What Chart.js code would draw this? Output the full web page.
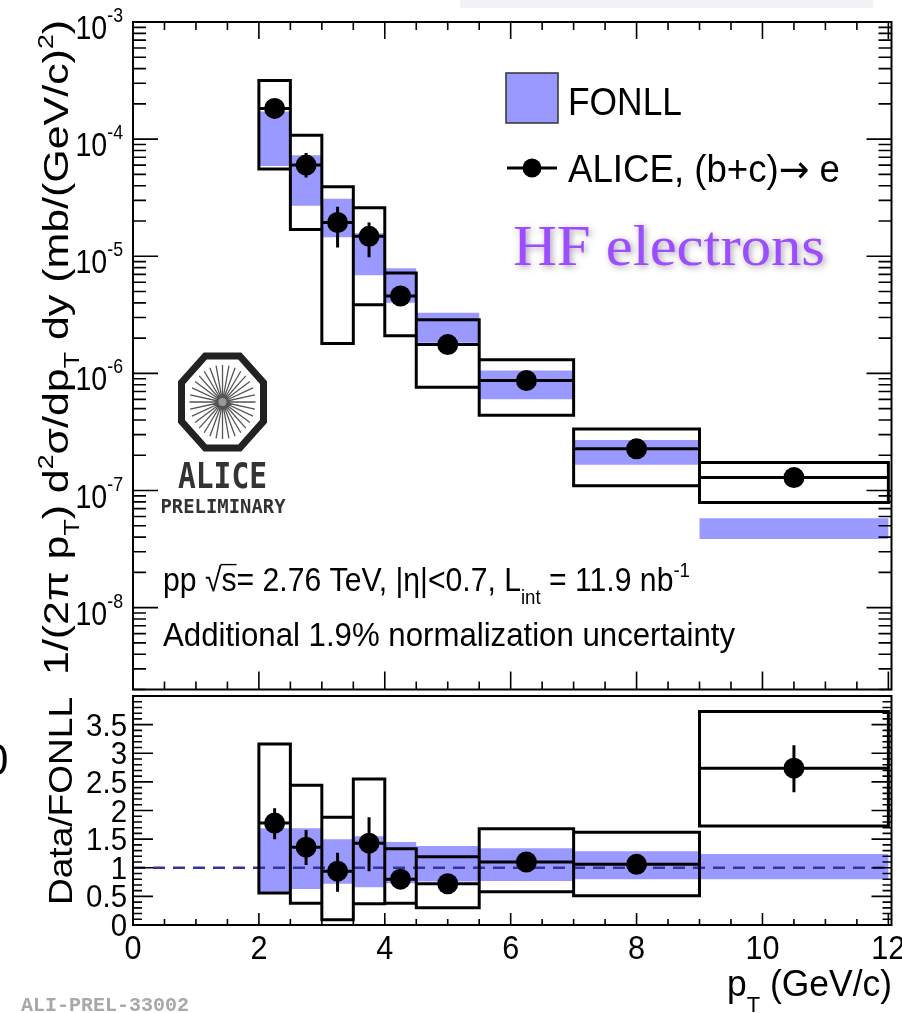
<!DOCTYPE html>
<html>
<head>
<meta charset="utf-8">
<script src="https://cdn.jsdelivr.net/npm/chart.js@4.4.1/dist/chart.umd.min.js"></script>
<style>
  body { margin: 0; background: #fff; }
  #wrap { position: relative; width: 902px; height: 1013px; overflow: hidden; background: #fff; }
  canvas { position: absolute; left: 0; }
  #spectrum { top: 0; }
  #ratio { top: 680px; }
</style>
</head>
<body>
<div id="wrap">
  <canvas id="spectrum" width="902" height="700"></canvas>
  <canvas id="ratio" width="902" height="333"></canvas>
</div>
<script>
// pT bins (GeV/c)
const binLow  = [2, 2.5, 3, 3.5, 4, 4.5, 5.5, 7, 9];
const binHigh = [2.5, 3, 3.5, 4, 4.5, 5.5, 7, 9, 12];
const ptMean  = [2.25, 2.75, 3.25, 3.75, 4.25, 5, 6.25, 8, 10.5];

// cross section, mb/(GeV/c)^2
const xsec       = [1.83e-4, 6.0e-5, 1.94e-5, 1.48e-5, 4.58e-6, 1.76e-6, 8.7e-7, 2.27e-7, 1.29e-7];
const xsecStatLo = [1.6e-4, 4.7e-5, 1.19e-5, 9.8e-6, 4.1e-6, 1.62e-6, 8.1e-7, 2.12e-7, 1.17e-7];
const xsecStatHi = [2.08e-4, 7.6e-5, 2.65e-5, 1.94e-5, 5.1e-6, 1.92e-6, 9.4e-7, 2.43e-7, 1.42e-7];
const xsecSysLo  = [5.57e-5, 1.69e-5, 1.8e-6, 3.85e-6, 2.1e-6, 7.6e-7, 4.4e-7, 1.1e-7, 7.9e-8];
const xsecSysHi  = [3.16e-4, 1.08e-4, 3.92e-5, 2.6e-5, 7.2e-6, 2.87e-6, 1.31e-6, 3.35e-7, 1.73e-7];
const fonllLo    = [5.9e-5, 2.7e-5, 1.45e-5, 6.9e-6, 4.0e-6, 1.83e-6, 6.0e-7, 1.66e-7, 3.85e-8];
const fonllHi    = [1.72e-4, 7.3e-5, 3.1e-5, 1.57e-5, 7.9e-6, 3.29e-6, 1.06e-6, 2.7e-7, 5.8e-8];

// data / FONLL
const ratio        = [1.78, 1.36, 0.94, 1.43, 0.80, 0.72, 1.10, 1.06, 2.74];
const ratioStatLo  = [1.50, 1.05, 0.58, 0.94, 0.71, 0.64, 1.03, 0.99, 2.32];
const ratioStatHi  = [2.04, 1.66, 1.26, 1.88, 0.89, 0.80, 1.17, 1.13, 3.14];
const ratioSysLo   = [0.56, 0.38, 0.09, 0.37, 0.38, 0.30, 0.58, 0.51, 1.73];
const ratioSysHi   = [3.16, 2.44, 1.88, 2.55, 1.33, 1.19, 1.68, 1.62, 3.73];
const ratioFonllLo = [0.58, 0.63, 0.72, 0.66, 0.73, 0.76, 0.77, 0.80, 0.80];
const ratioFonllHi = [1.69, 1.69, 1.50, 1.55, 1.45, 1.38, 1.34, 1.29, 1.24];

// ticks
const xMajor = [0, 2, 4, 6, 8, 10, 12];
const xTickLabels = ['0', '2', '4', '6', '8', '10', '12'];
const yDecades = [-3, -4, -5, -6, -7, -8];
const ratioTicks = [0, 0.5, 1, 1.5, 2, 2.5, 3, 3.5];
const ratioTickLabels = ['0', '0.5', '1', '1.5', '2', '2.5', '3', '3.5'];

const FONLL_COL = '#9999ff';
const SANS = '"Liberation Sans", Arial, sans-serif';

// text with sub/superscripts, optionally squeezed to a width and rotated
function richText(ctx, segs, x, y, o) {
  const size = o.size;
  const fontOf = (s, sz) => (o.weight || '') + ' ' + sz + 'px ' + (s.fam || o.family || SANS);
  const pieces = segs.map(s => {
    const sz = s.k ? size * 0.62 : size;
    ctx.font = fontOf(s, sz);
    return { s, sz, w: ctx.measureText(s.t).width };
  });
  const raw = pieces.reduce((a, p) => a + p.w, 0);
  const sx = o.width ? o.width / raw : (o.sx || 1);
  ctx.save();
  ctx.translate(x, y);
  if (o.rot) ctx.rotate(o.rot);
  ctx.scale(sx, 1);
  let cx = o.align === 'right' ? -raw : o.align === 'center' ? -raw / 2 : 0;
  ctx.fillStyle = o.color || '#000';
  ctx.textBaseline = 'alphabetic';
  ctx.textAlign = 'left';
  for (const p of pieces) {
    ctx.font = fontOf(p.s, p.sz);
    let dy = 0;
    if (p.s.k === 'sup') dy = -size * (o.supUp || 0.42);
    if (p.s.k === 'sub') dy = size * (o.subDown || 0.32);
    ctx.fillText(p.s.t, cx, dy);
    if (p.s.ovl) {
      ctx.save();
      ctx.strokeStyle = o.color || '#000';
      ctx.lineWidth = 1.4;
      ctx.beginPath();
      ctx.moveTo(cx - 1, -size * 0.8);
      ctx.lineTo(cx + p.w, -size * 0.8);
      ctx.stroke();
      ctx.restore();
    }
    cx += p.w;
  }
  ctx.restore();
}

function drawFrame(chart, o) {
  const ctx = chart.ctx, a = chart.chartArea;
  const xs = chart.scales.x, ys = chart.scales.y;
  ctx.save();
  ctx.strokeStyle = '#000';
  ctx.lineWidth = 1.6;
  ctx.beginPath();
  for (let v = 0; v <= 12.001; v += 0.5) {
    const px = xs.getPixelForValue(v);
    const major = xMajor.includes(v);
    if (o.xBottom) {
      const L = major ? o.xBottom[0] : o.xBottom[1];
      ctx.moveTo(px, a.bottom); ctx.lineTo(px, a.bottom - L);
    }
    if (o.xTop) {
      const L = major ? o.xTop[0] : o.xTop[1];
      ctx.moveTo(px, a.top); ctx.lineTo(px, a.top + L);
    }
  }
  o.yTicks.forEach(t => {
    const py = ys.getPixelForValue(t.v);
    const L = t.major ? o.yLen[0] : o.yLen[1];
    ctx.moveTo(a.left, py); ctx.lineTo(a.left + L, py);
    ctx.moveTo(a.right, py); ctx.lineTo(a.right - L, py);
  });
  ctx.stroke();
  ctx.lineWidth = 2;
  ctx.strokeRect(a.left, a.top, a.right - a.left, a.bottom - a.top);
  ctx.restore();
}

function bandSets(yl, yh) {
  return binLow.map((l, i) => ({
    data: [{x: l, y: yl[i]}, {x: binHigh[i], y: yl[i]}, {x: binHigh[i], y: yh[i]}, {x: l, y: yh[i]}],
    fill: 'shape', backgroundColor: FONLL_COL, borderColor: 'rgba(0,0,0,0)', borderWidth: 1,
    pointRadius: 0, order: 5
  }));
}

function boxSet(yl, yh) {
  const d = [];
  binLow.forEach((l, i) => {
    const h = binHigh[i];
    d.push({x: l, y: yl[i]}, {x: h, y: yl[i]}, {x: h, y: yh[i]}, {x: l, y: yh[i]}, {x: l, y: yl[i]}, {x: l, y: null});
  });
  return { data: d, borderColor: '#000', borderWidth: 3, borderCapStyle: 'square', pointRadius: 0, fill: false, spanGaps: false, order: 3 };
}

function errSet(v, sl, sh) {
  const d = [];
  binLow.forEach((l, i) => {
    d.push({x: l, y: v[i]}, {x: binHigh[i], y: v[i]}, {x: l, y: null},
           {x: ptMean[i], y: sl[i]}, {x: ptMean[i], y: sh[i]}, {x: l, y: null});
  });
  return { data: d, borderColor: '#000', borderWidth: 3, pointRadius: 0, fill: false, spanGaps: false, order: 2 };
}

function markerSet(v) {
  return { data: ptMean.map((x, i) => ({x, y: v[i]})), showLine: false, pointRadius: 10.5,
           pointBackgroundColor: '#000', pointBorderWidth: 0, order: 1 };
}

const common = {
  responsive: false, animation: false, events: [],
  plugins: { legend: { display: false }, tooltip: { enabled: false } }
};

// ---------- top panel ----------
const logTicks = [];
for (let n = -9; n <= -3; n++) {
  for (let k = 1; k <= 9; k++) {
    const v = k * Math.pow(10, n);
    if (v >= 2e-9 && v <= 1.0001e-3) logTicks.push({ v, major: k === 1 });
  }
}

const topPlugin = {
  id: 'topDecor',
  afterDraw(chart) {
    const ctx = chart.ctx, ys = chart.scales.y;
    drawFrame(chart, { xTop: [17, 8], xBottom: [18, 8], yTicks: logTicks, yLen: [25, 13] });

    // faint clipped header strip
    ctx.fillStyle = 'rgba(215,210,222,0.3)';
    ctx.fillRect(460, 0, 413, 8);

    yDecades.forEach(n => {
      const py = ys.getPixelForValue(Math.pow(10, n));
      richText(ctx, [{t: '10'}, {t: String(n), k: 'sup'}], 123, py + 17,
               { size: 34, sx: 0.84, align: 'right', supUp: 0.5 });
    });

    richText(ctx, [{t: '1/(2π p'}, {t: 'T', k: 'sub'}, {t: ') d'}, {t: '2', k: 'sup'}, {t: 'σ/dp'},
                   {t: 'T', k: 'sub'}, {t: ' dy (mb/(GeV/c)'}, {t: '2', k: 'sup'}, {t: ')'}],
             68, 675, { size: 35, width: 655, rot: -Math.PI / 2 });

    // legend
    ctx.save();
    ctx.fillStyle = FONLL_COL;
    ctx.fillRect(506, 73, 52, 50);
    ctx.strokeStyle = '#333';
    ctx.lineWidth = 1.5;
    ctx.strokeRect(506, 73, 52, 50);
    ctx.strokeStyle = '#000';
    ctx.lineWidth = 3;
    ctx.beginPath(); ctx.moveTo(507, 168); ctx.lineTo(557, 168); ctx.stroke();
    ctx.fillStyle = '#000';
    ctx.beginPath(); ctx.arc(532, 168, 9.5, 0, Math.PI * 2); ctx.fill();
    ctx.restore();
    richText(ctx, [{t: 'FONLL'}], 568, 115, { size: 38, width: 114 });
    richText(ctx, [{t: 'ALICE, (b+c)'}, {t: '→', fam: '"DejaVu Sans", sans-serif'}, {t: ' e'}], 568, 182,
             { size: 38, width: 272 });

    ctx.save();
    ctx.shadowColor = 'rgba(60,40,80,0.45)';
    ctx.shadowBlur = 6;
    ctx.shadowOffsetX = 2;
    ctx.shadowOffsetY = 2;
    richText(ctx, [{t: 'HF electrons'}], 513, 265,
             { size: 57, width: 312, family: '"Liberation Serif", "DejaVu Serif", serif', color: '#9b4dff' });
    ctx.restore();

    // ALICE logo
    ctx.save();
    const cx = 222.5, cy = 402, rx = 41, ry = 46;
    ctx.strokeStyle = '#555';
    ctx.lineWidth = 1.3;
    ctx.beginPath();
    for (let i = 0; i < 32; i++) {
      const ang = i * Math.PI / 16;
      ctx.moveTo(cx, cy);
      ctx.lineTo(cx + Math.cos(ang) * (rx - 8), cy + Math.sin(ang) * (ry - 9));
    }
    ctx.stroke();
    ctx.fillStyle = '#999';
    ctx.beginPath(); ctx.arc(cx, cy, 4, 0, Math.PI * 2); ctx.fill();
    ctx.strokeStyle = '#222';
    ctx.lineWidth = 7;
    ctx.lineJoin = 'miter';
    ctx.beginPath();
    const c = 0.42;
    const pts = [[-c, -1], [c, -1], [1, -c], [1, c], [c, 1], [-c, 1], [-1, c], [-1, -c]];
    pts.forEach((p, i) => {
      const px = cx + p[0] * rx, py = cy + p[1] * ry;
      if (i === 0) ctx.moveTo(px, py); else ctx.lineTo(px, py);
    });
    ctx.closePath();
    ctx.stroke();
    ctx.restore();
    richText(ctx, [{t: 'ALICE'}], 222.5, 488, { size: 35, width: 89, align: 'center', weight: 'bold',
             family: '"DejaVu Sans Mono", monospace', color: '#333' });
    richText(ctx, [{t: 'PRELIMINARY'}], 223, 513, { size: 20, width: 125, align: 'center', weight: 'bold',
             family: '"DejaVu Sans Mono", monospace', color: '#333' });

    // run info
    richText(ctx, [{t: 'pp '}, {t: '√'}, {t: 's', ovl: true}, {t: '= 2.76 TeV, |η|<0.7, L'},
                   {t: 'int', k: 'sub'}, {t: ' = 11.9 nb'}, {t: '-1', k: 'sup'}],
             163, 591, { size: 33, width: 527, subDown: 0.4 });
    richText(ctx, [{t: 'Additional 1.9% normalization uncertainty'}], 163, 646, { size: 33, width: 572 });
  }
};

new Chart(document.getElementById('spectrum'), {
  type: 'line',
  data: {
    datasets: [
      markerSet(xsec),
      errSet(xsec, xsecStatLo, xsecStatHi),
      boxSet(xsecSysLo, xsecSysHi),
      ...bandSets(fonllLo, fonllHi)
    ]
  },
  options: {
    ...common,
    layout: { padding: { left: 133, right: 9, top: 22, bottom: 4 } },
    scales: {
      x: { type: 'linear', min: 0, max: 12.05, display: false },
      y: { type: 'logarithmic', min: 2e-9, max: 1e-3, display: false }
    }
  },
  plugins: [topPlugin]
});

// ---------- ratio panel ----------
const ratioMinor = [];
for (let i = 0; i <= 40; i++) ratioMinor.push({ v: i / 10, major: i % 5 === 0 });

const ratioPlugin = {
  id: 'ratioDecor',
  afterDraw(chart) {
    const ctx = chart.ctx, xs = chart.scales.x, ys = chart.scales.y;
    drawFrame(chart, { xBottom: [12, 6], yTicks: ratioMinor, yLen: [20, 9] });

    ratioTicks.forEach((v, i) => {
      richText(ctx, [{t: ratioTickLabels[i]}], 127, ys.getPixelForValue(v) + 11,
               { size: 32, sx: 0.92, align: 'right' });
    });
    xMajor.forEach((v, i) => {
      richText(ctx, [{t: xTickLabels[i]}], xs.getPixelForValue(v), 279,
               { size: 34, sx: 0.9, align: 'center' });
    });
    richText(ctx, [{t: 'p'}, {t: 'T', k: 'sub'}, {t: ' (GeV/c)'}], 892, 316,
             { size: 37, width: 165, align: 'right', subDown: 0.42 });
    richText(ctx, [{t: 'Data/FONLL'}], 72, 225, { size: 34, width: 208, rot: -Math.PI / 2 });
    richText(ctx, [{t: '0'}], -16, 95, { size: 44 });

    ctx.save();
    ctx.font = 'bold 20px "Liberation Mono", "Courier New", monospace';
    ctx.fillStyle = '#a8a8a8';
    ctx.textAlign = 'left';
    ctx.textBaseline = 'alphabetic';
    ctx.fillText('ALI-PREL-33002', 21, 331, 172);
    ctx.restore();
  }
};

new Chart(document.getElementById('ratio'), {
  type: 'line',
  data: {
    datasets: [
      markerSet(ratio),
      errSet(ratio, ratioStatLo, ratioStatHi),
      boxSet(ratioSysLo, ratioSysHi),
      { data: [{x: 0, y: 1}, {x: 12, y: 1}], borderColor: '#34349a', borderWidth: 2.5,
        borderDash: [12, 8], pointRadius: 0, fill: false, order: 4 },
      ...bandSets(ratioFonllLo, ratioFonllHi)
    ]
  },
  options: {
    ...common,
    layout: { padding: { left: 133, right: 9, top: 16, bottom: 88 } },
    scales: {
      x: { type: 'linear', min: 0, max: 12.05, display: false },
      y: { type: 'linear', min: 0, max: 4, display: false }
    }
  },
  plugins: [ratioPlugin]
});
</script>
</body>
</html>
